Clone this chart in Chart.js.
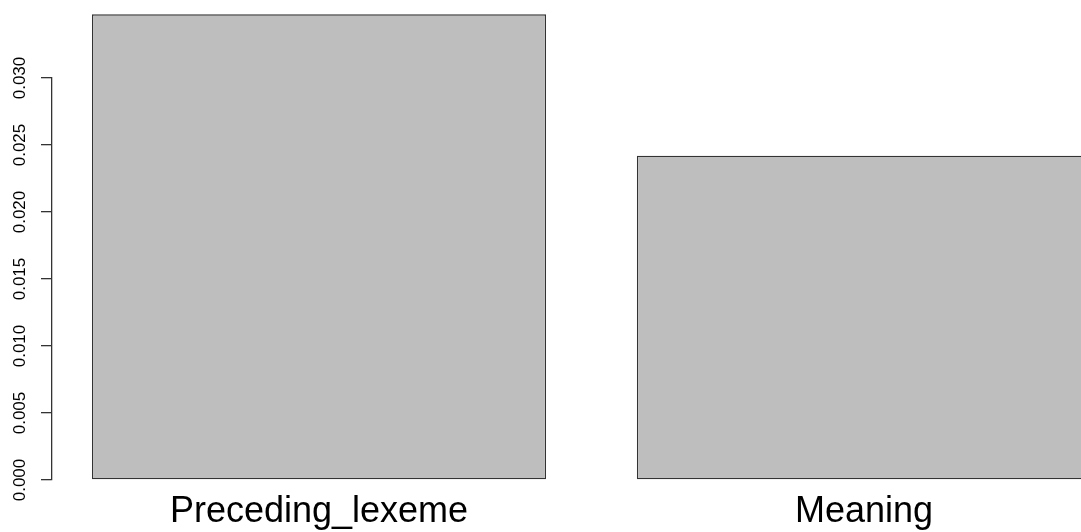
<!DOCTYPE html>
<html>
<head>
<meta charset="utf-8">
<style>
  html, body { margin: 0; padding: 0; background: #ffffff; overflow: hidden; }
  #wrap { width: 1081px; height: 532px; position: relative; }
  canvas { display: block; }
</style>
<script src="https://cdn.jsdelivr.net/npm/chart.js@4.4.1/dist/chart.umd.min.js"></script>
</head>
<body>
<div id="wrap"><canvas id="c" width="1081" height="532"></canvas></div>
<script>
// Bar heights per predictor
const categories = ['Preceding_lexeme', 'Meaning'];
const proportions = [0.03475, 0.0242];

// Y axis range and tick step (axis drawn from 0 to the last tick)
const yMin = 0;
const yMax = 0.030;
const yStep = 0.005;

// Base-R style bar layout: unit-width bars separated by 0.2 spaces
const barSpace = 0.2;
const barCenters = categories.map((_, i) => barSpace + i * (1 + barSpace) + 0.5);
const xRange = [0.112, 2.378];

const FONT = '"Liberation Sans", Arial, Helvetica, sans-serif';
const LINE = '#333';

// Rotated y tick labels, placed through the y scale
const yLabelPlugin = {
  id: 'yLabels',
  afterDraw(chart) {
    const ys = chart.scales.y;
    const ctx = chart.ctx;
    ctx.save();
    ctx.fillStyle = '#000';
    ctx.font = '17px ' + FONT;
    ctx.textAlign = 'center';
    ctx.textBaseline = 'middle';
    ys.ticks.forEach(t => {
      const py = ys.getPixelForValue(t.value);
      ctx.save();
      ctx.translate(20, py);
      ctx.rotate(-Math.PI / 2);
      ctx.fillText(t.value.toFixed(3), 0, 0);
      ctx.restore();
    });
    ctx.restore();
  }
};

new Chart(document.getElementById('c'), {
  type: 'bar',
  data: {
    datasets: [{
      data: categories.map((c, i) => ({ x: barCenters[i], y: proportions[i] })),
      backgroundColor: '#bebebe',
      borderColor: LINE,
      borderWidth: 1.3,
      borderSkipped: false,
      barPercentage: 1 / (1 + barSpace),
      categoryPercentage: 1,
      clip: false
    }]
  },
  options: {
    responsive: false,
    devicePixelRatio: 1,
    animation: false,
    layout: { padding: { top: 78, right: 0, bottom: 0, left: 0 } },
    plugins: { legend: { display: false }, tooltip: { enabled: false } },
    scales: {
      x: {
        type: 'linear',
        min: xRange[0],
        max: xRange[1],
        offset: false,
        bounds: 'data',
        afterBuildTicks: s => { s.ticks = barCenters.map(v => ({ value: v })); },
        afterFit: s => { s.height = 52; },
        grid: { display: false, drawTicks: false },
        border: { display: false },
        ticks: {
          autoSkip: false,
          maxRotation: 0,
          padding: 10,
          color: '#000',
          font: { family: FONT, size: 36 },
          callback: (v, i) => categories[i]
        }
      },
      y: {
        min: yMin,
        max: yMax,
        afterFit: s => { s.width = 52; },
        grid: { drawOnChartArea: false, drawTicks: true, tickLength: 11, color: LINE, lineWidth: 1.3 },
        border: { display: true, color: LINE, width: 1.3 },
        ticks: { stepSize: yStep, display: false }
      }
    }
  },
  plugins: [yLabelPlugin]
});
</script>
</body>
</html>
